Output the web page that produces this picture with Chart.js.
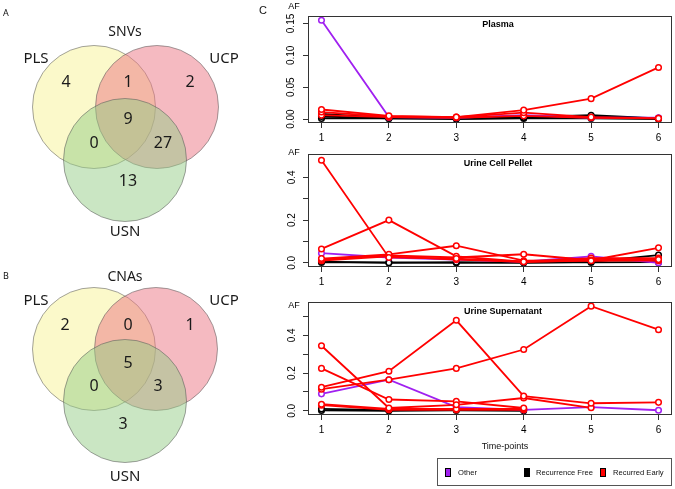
<!DOCTYPE html>
<html><head><meta charset="utf-8">
<script src="https://cdn.jsdelivr.net/npm/chart.js@4.4.1/dist/chart.umd.min.js"></script>
<style>
html,body{margin:0;padding:0;background:#fff;}
body{width:675px;height:489px;position:relative;overflow:hidden;font-family:"Liberation Sans",Arial,sans-serif;color:#111;}
canvas{position:absolute;}
.lbl{position:absolute;white-space:nowrap;line-height:1;}
#legend{position:absolute;left:437px;top:458px;width:235px;height:28px;border:1px solid #555;box-sizing:border-box;font-size:7.6px;}
#legend .sw{position:absolute;top:9px;width:6px;height:9px;border:1px solid #000;box-sizing:border-box;}
#legend .tx{position:absolute;top:9px;line-height:9px;}
</style></head><body>
<canvas id="venn" width="250" height="489" style="left:0;top:0;width:250px;height:489px"></canvas>
<canvas id="c1" width="413" height="145" style="left:262px;top:0;width:413px;height:145px"></canvas>
<canvas id="c2" width="413" height="151" style="left:262px;top:138px;width:413px;height:151px"></canvas>
<canvas id="c3" width="413" height="151" style="left:262px;top:286px;width:413px;height:151px"></canvas>
<div class="lbl" style="left:3px;top:8px;font-size:9px;font-family:'Noto Sans',sans-serif;">A</div>
<div class="lbl" style="left:3px;top:271px;font-size:9px;font-family:'Noto Sans',sans-serif;">B</div>
<div class="lbl" style="left:259px;top:5px;font-size:11px;">C</div>
<div class="lbl" style="left:505px;top:442px;font-size:9px;transform:translateX(-50%);">Time-points</div>
<div id="legend"></div>
<script>
// ---------------- DATA ----------------
const vennSets = ['PLS', 'UCP', 'USN'];
const vennTitles = ['SNVs', 'CNAs'];
// regions: PLS only, PLS&UCP, UCP only, all three, PLS&USN, UCP&USN, USN only
const snvCounts = [4, 1, 2, 9, 0, 27, 13];
const cnaCounts = [2, 0, 1, 5, 0, 3, 3];

const timePoints = [1, 2, 3, 4, 5, 6];
const groupNames = ['Other', 'Recurrence Free', 'Recurred Early'];

// Plasma
const plasmaOther = [[0.155, 0.003, 0.002, 0.006, 0.002, 0.002]];
const plasmaRecurrenceFree = [
  [0.008, 0.002, 0.002, 0.003, 0.006, 0.001],
  [0.004, 0.001, 0.001, 0.002, 0.004, 0.001],
  [0.001, 0.001, 0.000, 0.001, 0.001, 0.000]
];
const plasmaRecurredEarly = [
  [0.015, 0.005, 0.003, 0.014, 0.032, 0.081],
  [0.011, 0.004, 0.003, 0.010, 0.003, 0.001],
  [0.006, 0.003, 0.002, 0.005, 0.002, 0.001]
];
const plasmaYTicks = [0, 0.05, 0.10, 0.15];
const plasmaYLabels = ['0.00', '0.05', '0.10', '0.15'];

// Urine Cell Pellet
const pelletOther = [[0.045, 0.025, 0.015, 0.005, 0.030, 0.000]];
const pelletRecurrenceFree = [
  [0.006, 0.000, 0.003, 0.000, 0.005, 0.036],
  [0.002, 0.002, 0.000, 0.002, 0.002, 0.003]
];
const pelletRecurredEarly = [
  [0.480, 0.025, 0.020, 0.005, 0.010, 0.015],
  [0.065, 0.200, 0.030, 0.005, 0.012, 0.010],
  [0.020, 0.040, 0.080, 0.010, 0.012, 0.015],
  [0.015, 0.035, 0.025, 0.040, 0.012, 0.070],
  [0.010, 0.030, 0.015, 0.005, 0.022, 0.022]
];
const pelletYTicks = [0, 0.1, 0.2, 0.3, 0.4];
const pelletYLabels = ['0.0', '', '0.2', '', '0.4'];

// Urine Supernatant
const supOther = [[0.090, 0.165, 0.020, 0.005, 0.020, 0.003]];
const supRecurrenceFree = [
  [0.010, 0.003, 0.010, 0.005, null, null],
  [0.002, 0.000, 0.002, 0.000, null, null]
];
const supRecurredEarly = [
  [0.125, 0.210, 0.480, 0.078, 0.040, 0.045],
  [0.115, 0.165, 0.225, 0.325, 0.555, 0.430],
  [0.345, 0.015, 0.032, 0.068, 0.016, null],
  [0.225, 0.060, 0.050, 0.015, null, null],
  [0.035, 0.010, 0.010, 0.010, null, null],
  [0.030, 0.005, 0.005, 0.005, null, null]
];
const supYTicks = [0, 0.1, 0.2, 0.3, 0.4, 0.5];
const supYLabels = ['0.0', '', '0.2', '', '0.4', ''];

// ---------------- STYLE / LAYOUT ----------------
const groupColors = ['#A020F0', '#000000', '#FF0000'];
const vennFills = ['rgba(247,243,150,0.5)', 'rgba(236,118,132,0.5)', 'rgba(150,205,136,0.5)'];
const vennLayout = {
  radius: 61.5,
  centers: [
    [[94, 107], [94, 349]],
    [[157, 107], [156, 349]],
    [[125, 160], [125, 401]]
  ],
  regionPos: [
    [[66, 82], [128, 82], [190, 82], [128, 119], [94, 143], [163, 143], [128, 181]],
    [[65, 325], [128, 325], [190, 325], [128, 363], [94, 386], [158, 386], [123, 424]]
  ],
  setPos: [
    [[36, 59], [224, 59], [125, 232]],
    [[36, 301], [224, 301], [125, 477]]
  ],
  titlePos: [[125, 32], [125, 277]]
};
const VFONT = "'Noto Sans', 'Open Sans', sans-serif";

// ---------------- VENN ----------------
const vennText = {
  id: 'vennText',
  afterDatasetsDraw(chart) {
    const ctx = chart.ctx, xs = chart.scales.x, ys = chart.scales.y;
    const P = (p) => [xs.getPixelForValue(p[0]), ys.getPixelForValue(p[1])];
    ctx.save();
    ctx.fillStyle = '#1a1a1a';
    ctx.textAlign = 'center';
    ctx.textBaseline = 'middle';
    [snvCounts, cnaCounts].forEach((counts, k) => {
      ctx.font = `16px ${VFONT}`;
      counts.forEach((c, i) => { const [x, y] = P(vennLayout.regionPos[k][i]); ctx.fillText(String(c), x, y); });
      ctx.font = `15px ${VFONT}`;
      vennSets.forEach((s, i) => { const [x, y] = P(vennLayout.setPos[k][i]); ctx.fillText(s, x, y); });
      ctx.font = `14px ${VFONT}`;
      const [tx, ty] = P(vennLayout.titlePos[k]);
      ctx.fillText(vennTitles[k], tx, ty);
    });
    ctx.restore();
  }
};

new Chart(document.getElementById('venn'), {
  type: 'bubble',
  data: {
    datasets: vennSets.map((s, i) => ({
      label: s,
      order: 3 - i,
      clip: false,
      data: vennLayout.centers[i].map(c => ({ x: c[0], y: c[1], r: vennLayout.radius })),
      backgroundColor: vennFills[i],
      borderColor: 'rgba(90,90,90,0.55)',
      borderWidth: 1
    }))
  },
  options: {
    responsive: false, animation: false, events: [],
    layout: { padding: 0, autoPadding: false },
    plugins: { legend: { display: false }, tooltip: { enabled: false } },
    scales: {
      x: { type: 'linear', min: 0, max: 250, display: false },
      y: { type: 'linear', min: 0, max: 489, reverse: true, display: false }
    }
  },
  plugins: [vennText]
});

// ---------------- LINE PANELS ----------------
const panelDeco = {
  id: 'panelDeco',
  afterDraw(chart, args, opts) {
    const { ctx, chartArea: a } = chart;
    ctx.save();
    ctx.strokeStyle = '#333';
    ctx.lineWidth = 1;
    ctx.strokeRect(a.left + 0.5, a.top + 0.5, a.width - 1, a.height - 1);
    ctx.fillStyle = '#000';
    ctx.textAlign = 'center';
    ctx.textBaseline = 'middle';
    ctx.font = "bold 9px 'Liberation Sans', Arial, sans-serif";
    ctx.fillText(opts.title, (a.left + a.right) / 2 + opts.titleDx, a.top + opts.titleDy);
    ctx.font = "9px 'Liberation Sans', Arial, sans-serif";
    ctx.fillText('AF', a.left - 14, a.top + opts.afDy);
    ctx.restore();
  }
};

function makeDatasets(other, free, early) {
  const ds = [];
  const add = (arr, g) => arr.forEach(vals => ds.push({
    label: groupNames[g],
    data: vals,
    borderColor: groupColors[g],
    pointBorderColor: groupColors[g],
    pointBackgroundColor: '#fff',
    borderWidth: 1.8,
    pointRadius: 2.8,
    pointBorderWidth: 1.5,
    tension: 0,
    spanGaps: false,
    clip: 6
  }));
  add(early, 2);
  add(other, 0);
  add(free, 1);
  return ds;
}

function makePanel(id, other, free, early, yMin, yMax, yTicks, yLabels, yPad, deco) {
  new Chart(document.getElementById(id), {
    type: 'line',
    data: { labels: timePoints, datasets: makeDatasets(other, free, early) },
    options: {
      responsive: false, animation: false, events: [],
      layout: { padding: { top: 16, right: 3, left: 0, bottom: 0 }, autoPadding: false },
      plugins: { legend: { display: false }, tooltip: { enabled: false }, panelDeco: deco },
      scales: {
        x: {
          type: 'linear', min: 0.8, max: 6.2,
          afterBuildTicks: s => { s.ticks = timePoints.map(v => ({ value: v })); },
          afterFit: s => { s.height = 22; },
          border: { display: false },
          grid: { display: true, drawOnChartArea: false, drawTicks: true, tickLength: 5, color: '#333', lineWidth: 1 },
          ticks: { autoSkip: false, padding: 4, color: '#000', maxRotation: 0, minRotation: 0,
            font: { family: "'Liberation Sans', Arial, sans-serif", size: 10 },
            callback: (v) => String(v) }
        },
        y: {
          type: 'linear', min: yMin, max: yMax,
          afterBuildTicks: s => { s.ticks = yTicks.map(v => ({ value: v })); },
          afterFit: s => { s.width = 46; },
          border: { display: false },
          grid: { display: true, drawOnChartArea: false, drawTicks: true, tickLength: 5, color: '#333', lineWidth: 1 },
          ticks: { autoSkip: false, padding: yPad, color: '#000', minRotation: 90, maxRotation: 90, crossAlign: 'center',
            font: { family: "'Liberation Sans', Arial, sans-serif", size: 10 },
            callback: (v, i) => yLabels[i] }
        }
      }
    },
    plugins: [panelDeco]
  });
}

makePanel('c1', plasmaOther, plasmaRecurrenceFree, plasmaRecurredEarly, -0.0062, 0.1617, plasmaYTicks, plasmaYLabels, 2.3,
  { title: 'Plasma', titleDx: 8, titleDy: 9, afDy: -9.5 });
makePanel('c2', pelletOther, pelletRecurrenceFree, pelletRecurredEarly, -0.0196, 0.5096, pelletYTicks, pelletYLabels, 3.5,
  { title: 'Urine Cell Pellet', titleDx: 8, titleDy: 10, afDy: -1 });
makePanel('c3', supOther, supRecurrenceFree, supRecurredEarly, -0.0222, 0.577, supYTicks, supYLabels, 3.5,
  { title: 'Urine Supernatant', titleDx: 13, titleDy: 10, afDy: 4 });

// ---------------- LEGEND ----------------
const legendPos = [[7, 20], [86, 98], [162, 175]];
const legend = document.getElementById('legend');
groupNames.forEach((n, i) => {
  const sw = document.createElement('div');
  sw.className = 'sw'; sw.style.left = legendPos[i][0] + 'px'; sw.style.background = groupColors[i];
  const tx = document.createElement('div');
  tx.className = 'tx'; tx.style.left = legendPos[i][1] + 'px'; tx.textContent = n;
  legend.appendChild(sw); legend.appendChild(tx);
});
</script>
</body></html>
